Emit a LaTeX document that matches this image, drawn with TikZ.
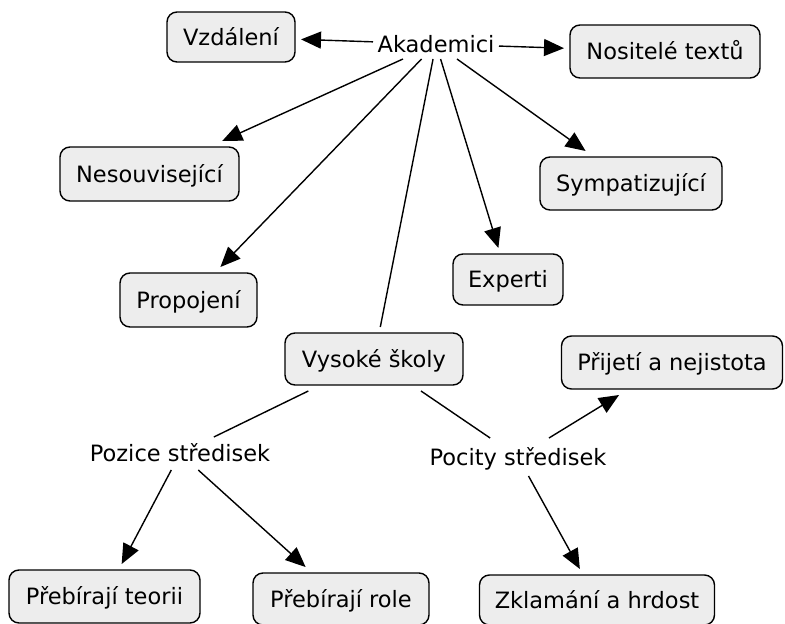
\documentclass[tikz,border=0pt]{standalone}
\usepackage{fontspec}
\setmainfont{DejaVu Sans}
\usetikzlibrary{arrows.meta}
\begin{document}
\begin{tikzpicture}[x=1pt,y=-1pt,
  txt/.style={inner sep=0pt, text height=17pt, text depth=1pt, font=\fontsize{22.5}{24}\selectfont},
  box/.style={txt, draw, line width=1.4pt, rounded corners=10pt, fill=black!7, outer sep=6pt},
  lbl/.style={txt, outer sep=0pt},
  con/.style={line width=1.4pt},
  arr/.style={con, -{Triangle[length=20pt,width=17pt]}}]
\useasboundingbox (0,0) rectangle (785,624);
\node[box, minimum width=128pt, minimum height=50pt] (vzd) at (231,37) {Vzdálení};
\node[lbl, minimum width=126pt, minimum height=30pt] (ak) at (436,44) {Akademici};
\node[box, minimum width=190pt, minimum height=53pt] (nos) at (665,51.5) {Nositelé textů};
\node[box, minimum width=179pt, minimum height=54pt] (nes) at (149.5,174) {Nesouvisející};
\node[box, minimum width=182pt, minimum height=53pt] (sym) at (631,183.5) {Sympatizující};
\node[box, minimum width=110pt, minimum height=51pt] (exp) at (508,279.5) {Experti};
\node[box, minimum width=137pt, minimum height=54pt] (pro) at (188.5,300) {Propojení};
\node[box, minimum width=178pt, minimum height=52pt] (vys) at (374,359) {Vysoké školy};
\node[box, minimum width=221pt, minimum height=53pt] (pri) at (672,362.5) {Přijetí a nejistota};
\node[lbl, minimum width=185pt, minimum height=33pt] (poz) at (180,453.5) {Pozice středisek};
\node[lbl, minimum width=183pt, minimum height=38pt] (poc) at (518,457) {Pocity středisek};
\node[box, minimum width=191pt, minimum height=53pt] (teo) at (104.5,596.5) {Přebírají teorii};
\node[box, minimum width=176pt, minimum height=52pt] (rol) at (341,599) {Přebírají role};
\node[box, minimum width=235pt, minimum height=50pt] (zkl) at (597,600) {Zklamání a hrdost};
\draw[arr] (ak) -- (vzd);
\draw[arr] (ak) -- (nos);
\draw[arr] (ak) -- (nes);
\draw[arr] (ak) -- (pro);
\draw[con] (ak) -- (vys);
\draw[arr] (ak) -- (exp);
\draw[arr] (ak) -- (sym);
\draw[con] (vys) -- (poz);
\draw[con] (vys) -- (poc);
\draw[arr] (poz) -- (teo);
\draw[arr] (poz) -- (rol);
\draw[arr] (poc) -- (pri);
\draw[arr] (poc) -- (zkl);
\end{tikzpicture}
\end{document}
